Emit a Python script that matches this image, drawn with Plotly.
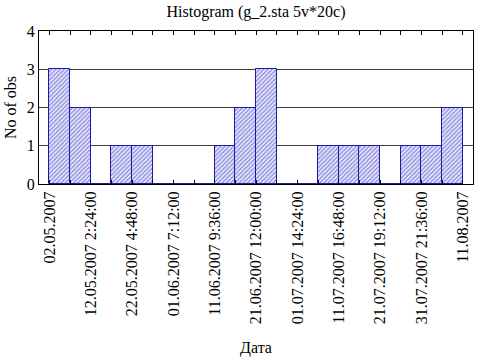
import plotly.graph_objects as go

# Bin edge labels (every second edge is labelled)
edge_labels = ["02.05.2007", "12.05.2007 2:24:00", "22.05.2007 4:48:00",
               "01.06.2007 7:12:00", "11.06.2007 9:36:00", "21.06.2007 12:00:00",
               "01.07.2007 14:24:00", "11.07.2007 16:48:00", "21.07.2007 19:12:00",
               "31.07.2007 21:36:00", "11.08.2007"]
# Counts in 20 bins
counts = [3, 2, 0, 1, 1, 0, 0, 0, 1, 2, 3, 0, 0, 1, 1, 1, 0, 1, 1, 2]
y_ticks = [0, 1, 2, 3, 4]

n_bins = len(counts)
bin_centers = [i + 0.5 for i in range(n_bins)]
label_pos = [2 * i for i in range(len(edge_labels))]

FONT = "Liberation Serif"

fig = go.Figure()
fig.add_trace(go.Bar(
    x=bin_centers, y=counts, width=1,
    marker=dict(
        color="#ffffff",
        line=dict(color="#1a1aa6", width=1),
        pattern=dict(shape="/", fgcolor="#3838c8", bgcolor="#eeeefc", size=3, solidity=0.5),
    ),
    showlegend=False,
))

fig.update_layout(
    width=482, height=362,
    margin=dict(l=39, r=9, t=31, b=178, autoexpand=False),
    paper_bgcolor="white", plot_bgcolor="white",
    font=dict(family=FONT, size=16, color="black"),
    bargap=0,
    title=dict(text="Histogram (g_2.sta 5v*20c)", x=0.5, xanchor="center",
               xref="paper", y=0.985, yref="container", yanchor="top",
               font=dict(family=FONT, size=16)),
)
fig.update_xaxes(
    range=[-0.5, n_bins + 0.5], automargin=False,
    tickmode="array", tickvals=label_pos, ticktext=edge_labels,
    tickangle=-90, ticks="inside", ticklen=4, tickcolor="black",
    tickfont=dict(family=FONT, size=16),
    minor=dict(dtick=1, tick0=0, ticks="inside", ticklen=4, tickcolor="black", showgrid=False),
    showline=True, linecolor="black", linewidth=1, mirror="allticks",
    showgrid=False, zeroline=False,
    title=dict(text="Дата", standoff=18, font=dict(family=FONT, size=16)),
)
fig.update_yaxes(
    range=[0, 4], tickmode="array", tickvals=y_ticks, automargin=False,
    tickfont=dict(family=FONT, size=16),
    ticks="", showline=True, linecolor="black", linewidth=1, mirror=True,
    showgrid=True, gridcolor="#3c3c3c", gridwidth=1, zeroline=False,
    title=dict(text="No of obs", standoff=6, font=dict(family=FONT, size=16)),
)

fig.write_html(
    "out.html",
    config={"displayModeBar": False},
    post_script="document.body.style.margin='0';document.body.style.padding='0';",
)
